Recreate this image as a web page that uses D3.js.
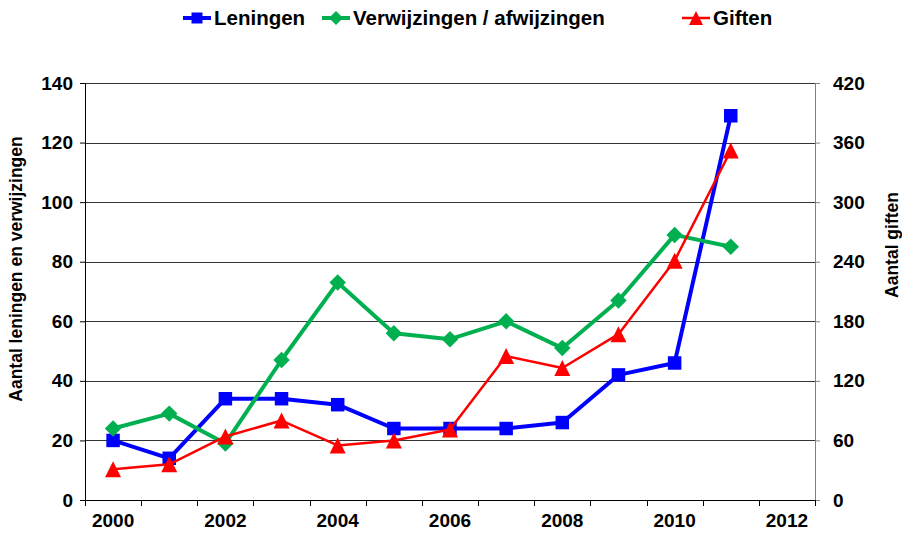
<!DOCTYPE html>
<html>
<head>
<meta charset="utf-8">
<script src="https://cdn.jsdelivr.net/npm/d3@7"></script>
<style>
  body { margin: 0; background: #fff; }
  text { font-family: "Liberation Sans", Arial, sans-serif; font-weight: bold; }
</style>
</head>
<body>
<div id="chart"></div>
<script>
// categories on the x axis (2012 is an empty slot)
let years = [2000, 2001, 2002, 2003, 2004, 2005, 2006, 2007, 2008, 2009, 2010, 2011, 2012];
let dataYears = [2000, 2001, 2002, 2003, 2004, 2005, 2006, 2007, 2008, 2009, 2010, 2011];

// left axis series
let leningen = [20, 14, 34, 34, 32, 24, 24, 24, 26, 42, 46, 129];
let verwijzingen = [24, 29, 19, 47, 73, 56, 54, 60, 51, 67, 89, 85];
// right axis series
let giften = [31, 36, 64, 80, 55, 60, 71, 145, 133, 167, 241, 352];

let leftTicks = [0, 20, 40, 60, 80, 100, 120, 140];
let rightTicks = [0, 60, 120, 180, 240, 300, 360, 420];
let yearLabels = [2000, 2002, 2004, 2006, 2008, 2010, 2012];

let W = 902, H = 533;
let margin = {top: 83, right: 87, bottom: 33, left: 85},
    width = W - margin.left - margin.right,
    height = H - margin.top - margin.bottom;

let svg = d3.select("#chart")
    .append("svg")
        .attr("width", W)
        .attr("height", H);

let g = svg.append("g")
    .attr("transform", `translate(${margin.left},${margin.top})`);

let x = d3.scaleBand()
    .domain(years)
    .range([0, width])
    .padding(0);

let yL = d3.scaleLinear().domain([0, 140]).range([height, 0]);
let yR = d3.scaleLinear().domain([0, 420]).range([height, 0]);

let cx = (d, i) => x(dataYears[i]) + x.bandwidth() / 2;

// gridlines
g.append("g")
    .selectAll("line")
    .data(leftTicks.filter(d => d > 0))
    .join("line")
        .attr("x1", 0)
        .attr("x2", width)
        .attr("y1", d => Math.round(yL(d)) + 0.5)
        .attr("y2", d => Math.round(yL(d)) + 0.5)
        .attr("stroke", "#333")
        .attr("stroke-width", 1);

let tickFont = sel => sel.attr("font-size", 19).attr("fill", "#000")
    .style("font-family", "'Liberation Sans', Arial, sans-serif").style("font-weight", "bold");

// left axis
let axL = g.append("g")
    .call(d3.axisLeft(yL).tickValues(leftTicks).tickSize(5).tickPadding(7));
axL.select(".domain").attr("stroke", "#000");
axL.selectAll("text").call(tickFont);

// right axis
let axR = g.append("g")
    .attr("transform", `translate(${width},0)`)
    .call(d3.axisRight(yR).tickValues(rightTicks).tickSize(5).tickPadding(13));
axR.select(".domain").attr("stroke", "#808080");
axR.selectAll(".tick line").attr("stroke", "#808080");
axR.selectAll("text").call(tickFont);

// bottom axis: labels centred in bands, ticks on band edges
let axB = g.append("g")
    .attr("transform", `translate(0,${height})`)
    .call(d3.axisBottom(x)
        .tickValues(yearLabels)
        .tickSize(0)
        .tickPadding(14));
axB.select(".domain").remove();
axB.selectAll("text").call(tickFont);

g.append("line")
    .attr("x1", 0).attr("x2", width)
    .attr("y1", height + 0.5).attr("y2", height + 0.5)
    .attr("stroke", "#000");

g.append("g")
    .selectAll("line")
    .data(years.concat(["end"]))
    .join("line")
        .attr("x1", d => Math.round(d === "end" ? width : x(d)) + 0.5)
        .attr("x2", d => Math.round(d === "end" ? width : x(d)) + 0.5)
        .attr("y1", height)
        .attr("y2", height + 6)
        .attr("stroke", "#000");

// series
function drawSeries(values, yScale, color, lineWidth, symbol, size) {
    let line = d3.line()
        .x(cx)
        .y(d => yScale(d));

    g.append("path")
        .datum(values)
        .attr("fill", "none")
        .attr("stroke", color)
        .attr("stroke-width", lineWidth)
        .attr("stroke-linejoin", "round")
        .attr("d", line);

    g.selectAll(null)
        .data(values)
        .join("path")
        .attr("d", d3.symbol().type(symbol).size(size))
        .attr("transform", (d, i) => `translate(${cx(d, i)},${yScale(d)})`)
        .attr("fill", color);
}

let diamond = {
    draw(ctx, size) {
        let r = Math.sqrt(size) / 2;
        ctx.moveTo(0, -r); ctx.lineTo(r, 0); ctx.lineTo(0, r); ctx.lineTo(-r, 0); ctx.closePath();
    }
};
let triangle = {
    draw(ctx, size) {
        let w = Math.sqrt(size);
        ctx.moveTo(0, -w / 2); ctx.lineTo(w / 2, w / 2); ctx.lineTo(-w / 2, w / 2); ctx.closePath();
    }
};

drawSeries(leningen, yL, "#0000ff", 4, d3.symbolSquare, 182);
drawSeries(verwijzingen, yL, "#00b050", 4, diamond, 272);
drawSeries(giften, yR, "#ff0000", 2.5, triangle, 256);

// axis titles
svg.append("text")
    .attr("transform", "translate(22,269) rotate(-90)")
    .attr("text-anchor", "middle")
    .attr("font-size", 17.5)
    .text("Aantal leningen en verwijzingen");

svg.append("text")
    .attr("transform", "translate(898,245) rotate(-90)")
    .attr("text-anchor", "middle")
    .attr("font-size", 17.5)
    .text("Aantal giften");

// legend
let legendItems = [
    {name: "Leningen", color: "#0000ff", sym: d3.symbolSquare, size: 121, w: 4, x: 183},
    {name: "Verwijzingen / afwijzingen", color: "#00b050", sym: diamond, size: 196, w: 4, x: 322},
    {name: "Giften", color: "#ff0000", sym: triangle, size: 196, w: 2.5, x: 682}
];

let leg = svg.append("g");
legendItems.forEach(it => {
    leg.append("line")
        .attr("x1", it.x).attr("x2", it.x + 28)
        .attr("y1", 18).attr("y2", 18)
        .attr("stroke", it.color)
        .attr("stroke-width", it.w);
    leg.append("path")
        .attr("d", d3.symbol().type(it.sym).size(it.size))
        .attr("transform", `translate(${it.x + 14},18)`)
        .attr("fill", it.color);
    leg.append("text")
        .attr("x", it.x + 31)
        .attr("y", 25)
        .attr("font-size", 20.5)
        .text(it.name);
});
</script>
</body>
</html>
